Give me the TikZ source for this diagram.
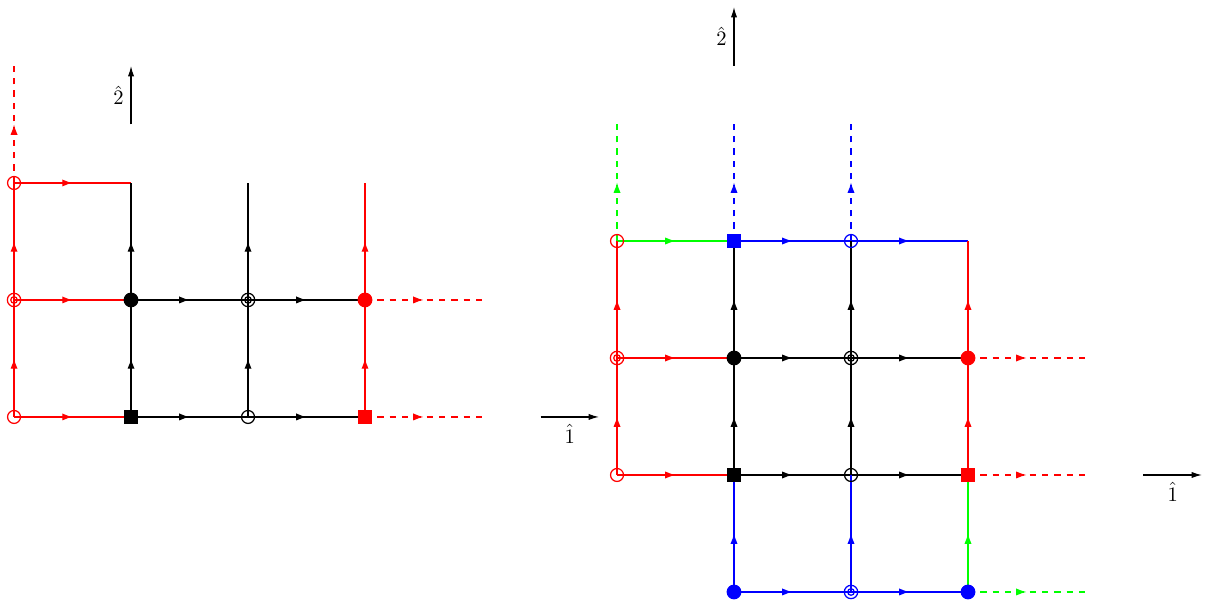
\documentclass[tikz,border=0pt]{standalone}
\usepackage{tikz}
\usetikzlibrary{arrows.meta, decorations.markings}

\begin{document}
\begin{tikzpicture}[
		x=2cm, y=2cm, semithick,
		link/.style={
			postaction={decorate},
			decoration={markings, mark=at position 0.5 with {\arrow{Latex[length=5pt,width=3.5pt]}}}
		},
		axis/.style={-{Latex[length=5pt,width=3pt]}},
		opensite/.style={circle, draw=#1, inner sep=0pt, minimum size=6.3pt},
		doublesite/.style={circle, draw=#1, inner sep=0pt, minimum size=6.5pt,
			path picture={\draw[#1] (path picture bounding box.center) circle (1.6pt);}},
		dotsite/.style={circle, draw=#1, fill=#1, inner sep=0pt, minimum size=6.6pt},
		squaresite/.style={rectangle, draw=#1, fill=#1, inner sep=0pt, minimum size=6pt}
		]
		\useasboundingbox (-0.12,-1.598) rectangle (10.197,3.564);
		
		% left lattice
		\foreach \i in {0,...,3}
		\foreach \j in {0,1,2}
		\coordinate (l\i\j) at (\i,\j);
		\coordinate (l0top) at (0,3);
		\coordinate (l3e1) at (4,1);
		\coordinate (l3e0) at (4,0);
		
		\draw[link, red] (l00) -- (l10);
		\draw[link, red] (l01) -- (l11);
		\draw[link, red] (l02) -- (l12);
		\draw[link, red] (l00) -- (l01);
		\draw[link, red] (l01) -- (l02);
		\draw[link, red] (l30) -- (l31);
		\draw[link, red] (l31) -- (l32);
		\draw[link] (l10) -- (l20);
		\draw[link] (l20) -- (l30);
		\draw[link] (l11) -- (l21);
		\draw[link] (l21) -- (l31);
		\draw[link] (l10) -- (l11);
		\draw[link] (l11) -- (l12);
		\draw[link] (l20) -- (l21);
		\draw[link] (l21) -- (l22);
		\draw[link, red, dashed] (l02) -- (l0top);
		\draw[link, red, dashed] (l31) -- (l3e1);
		\draw[link, red, dashed] (l30) -- (l3e0);
		
		\node[opensite=red] (ml02) at (l02) {};
		\node[opensite=red] (ml00) at (l00) {};
		\node[doublesite=red] (ml01) at (l01) {};
		\node[dotsite=black] (ml11) at (l11) {};
		\node[doublesite=black] (ml21) at (l21) {};
		\node[dotsite=red] (ml31) at (l31) {};
		\node[squaresite=black] (ml10) at (l10) {};
		\node[opensite=black] (ml20) at (l20) {};
		\node[squaresite=red] (ml30) at (l30) {};
		
		\coordinate (la2s) at (1,2.5);
		\coordinate (la2e) at (1,3);
		\coordinate (la1s) at (4.5,0);
		\coordinate (la1e) at (5,0);
		\draw[axis] (la2s) -- node[left] {$\hat{2}$} (la2e);
		\draw[axis] (la1s) -- node[below] {$\hat{1}$} (la1e);
		
		% right lattice
		\begin{scope}[shift={(5.154,-0.496)}]
			\foreach \i in {0,...,3}
			\foreach \j in {0,...,3}
			\coordinate (r\i\j) at (\i,\j-1);
			\coordinate (r0top) at (0,3);
			\coordinate (r1top) at (1,3);
			\coordinate (r2top) at (2,3);
			\coordinate (r3e2) at (4,1);
			\coordinate (r3e1) at (4,0);
			\coordinate (r3e0) at (4,-1);
			
			\draw[link, green] (r03) -- (r13);
			\draw[link, blue] (r13) -- (r23);
			\draw[link, blue] (r23) -- (r33);
			\draw[link, red] (r02) -- (r12);
			\draw[link] (r12) -- (r22);
			\draw[link] (r22) -- (r32);
			\draw[link, red] (r01) -- (r11);
			\draw[link] (r11) -- (r21);
			\draw[link] (r21) -- (r31);
			\draw[link, blue] (r10) -- (r20);
			\draw[link, blue] (r20) -- (r30);
			\draw[link, red] (r01) -- (r02);
			\draw[link, red] (r02) -- (r03);
			\draw[link, blue] (r10) -- (r11);
			\draw[link] (r11) -- (r12);
			\draw[link] (r12) -- (r13);
			\draw[link, blue] (r20) -- (r21);
			\draw[link] (r21) -- (r22);
			\draw[link] (r22) -- (r23);
			\draw[link, green] (r30) -- (r31);
			\draw[link, red] (r31) -- (r32);
			\draw[link, red] (r32) -- (r33);
			\draw[link, green, dashed] (r03) -- (r0top);
			\draw[link, blue, dashed] (r13) -- (r1top);
			\draw[link, blue, dashed] (r23) -- (r2top);
			\draw[link, red, dashed] (r32) -- (r3e2);
			\draw[link, red, dashed] (r31) -- (r3e1);
			\draw[link, green, dashed] (r30) -- (r3e0);
			
			\node[opensite=red] (mr03) at (r03) {};
			\node[squaresite=blue] (mr13) at (r13) {};
			\node[opensite=blue] (mr23) at (r23) {};
			\node[doublesite=red] (mr02) at (r02) {};
			\node[dotsite=black] (mr12) at (r12) {};
			\node[doublesite=black] (mr22) at (r22) {};
			\node[dotsite=red] (mr32) at (r32) {};
			\node[opensite=red] (mr01) at (r01) {};
			\node[squaresite=black] (mr11) at (r11) {};
			\node[opensite=black] (mr21) at (r21) {};
			\node[squaresite=red] (mr31) at (r31) {};
			\node[dotsite=blue] (mr10) at (r10) {};
			\node[doublesite=blue] (mr20) at (r20) {};
			\node[dotsite=blue] (mr30) at (r30) {};
			
			\coordinate (ra2s) at (1,3.5);
			\coordinate (ra2e) at (1,4);
			\coordinate (ra1s) at (4.5,0);
			\coordinate (ra1e) at (5,0);
			\draw[axis] (ra2s) -- node[left] {$\hat{2}$} (ra2e);
			\draw[axis] (ra1s) -- node[below] {$\hat{1}$} (ra1e);
		\end{scope}
		
	\end{tikzpicture}
\end{document}
